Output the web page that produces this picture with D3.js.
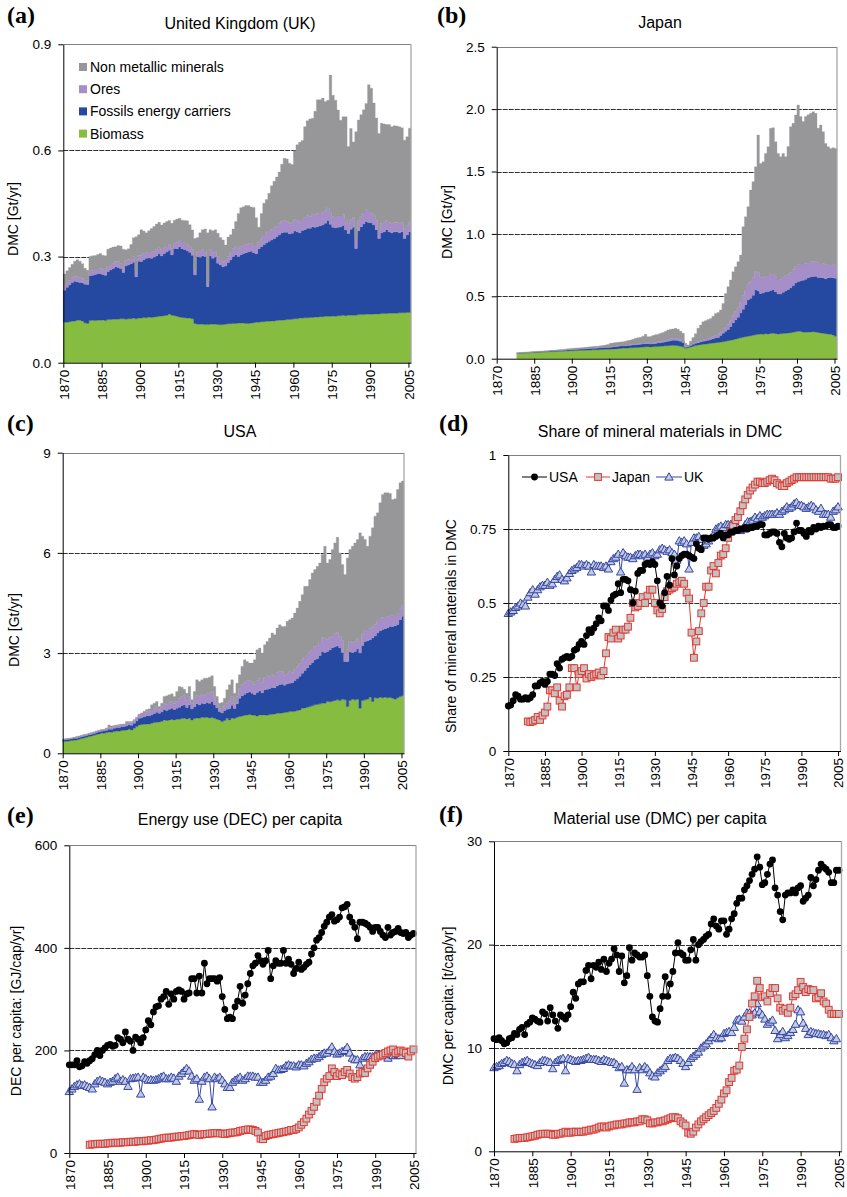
<!DOCTYPE html>
<html><head><meta charset="utf-8">
<script src="https://cdn.jsdelivr.net/npm/d3@7"></script>
<style>
body{margin:0;background:#fff}
svg text{font-family:"Liberation Sans",Arial,Helvetica,sans-serif;fill:#000}
</style>
</head><body>
<svg id="c" width="847" height="1197"></svg>
<script>
// ---------------- DATA ----------------
const xTicks = [1870,1885,1900,1915,1930,1945,1960,1975,1990,2005];
const layerNames = ["Biomass","Fossils energy carriers","Ores","Non metallic minerals"];
const legendOrder = ["Non metallic minerals","Ores","Fossils energy carriers","Biomass"];

// UK DMC by material group [Gt/yr], 1870-2005
const ukStart = 1870;
const ukBiomass = [
.114,.114,.116,.117,.118,.120,.120,.118,.113,.111,
.119,.120,.119,.120,.120,.121,.119,.122,.122,.123,
.123,.123,.124,.124,.123,.124,.124,.126,.124,.126,
.126,.128,.127,.129,.128,.129,.130,.131,.132,.133,
.134,.138,.134,.133,.131,.129,.128,.127,.126,.126,
.124,.111,.109,.109,.109,.108,.108,.109,.109,.109,
.108,.107,.108,.109,.110,.110,.111,.111,.112,.112,
.112,.111,.111,.112,.113,.114,.114,.116,.116,.117,
.117,.118,.118,.119,.120,.120,.121,.122,.122,.123,
.124,.124,.126,.126,.127,.127,.128,.128,.129,.129,
.130,.130,.131,.131,.131,.132,.131,.133,.133,.134,
.133,.134,.134,.134,.134,.136,.136,.136,.137,.137,
.137,.138,.138,.138,.139,.139,.139,.140,.140,.140,
.140,.141,.141,.141,.142,.142];
const ukFossil = [
.091,.099,.104,.110,.112,.109,.107,.108,.109,.110,
.127,.127,.130,.131,.132,.128,.128,.136,.140,.143,
.148,.146,.142,.131,.150,.152,.156,.158,.119,.161,
.160,.163,.168,.167,.167,.169,.172,.176,.170,.176,
.179,.180,.171,.190,.191,.199,.194,.193,.190,.186,
.180,.137,.191,.189,.193,.192,.107,.193,.186,.189,
.173,.169,.163,.164,.173,.181,.189,.194,.188,.193,
.197,.200,.202,.203,.198,.194,.208,.212,.218,.222,
.226,.229,.233,.237,.241,.247,.248,.247,.242,.243,
.248,.246,.241,.248,.249,.253,.252,.256,.254,.256,
.257,.259,.263,.271,.260,.251,.250,.250,.251,.254,
.242,.231,.243,.249,.189,.237,.248,.256,.262,.259,
.258,.251,.238,.213,.228,.231,.237,.230,.227,.230,
.230,.226,.229,.210,.219,.228];
const ukOres = [
.013,.013,.012,.013,.014,.014,.013,.013,.012,.012,
.014,.014,.013,.014,.015,.014,.014,.015,.014,.014,
.016,.016,.015,.015,.016,.016,.016,.017,.016,.016,
.017,.017,.016,.017,.017,.017,.018,.018,.017,.017,
.017,.017,.017,.018,.018,.019,.019,.019,.018,.017,
.017,.013,.016,.017,.017,.016,.013,.017,.017,.018,
.019,.017,.016,.017,.018,.020,.022,.024,.022,.023,
.024,.024,.024,.023,.022,.020,.022,.024,.027,.028,
.029,.030,.031,.030,.032,.033,.033,.031,.029,.031,
.033,.032,.030,.032,.034,.036,.033,.034,.036,.037,
.036,.036,.037,.038,.033,.031,.031,.031,.031,.031,
.031,.028,.027,.028,.027,.029,.030,.031,.033,.033,
.031,.029,.027,.024,.027,.026,.026,.026,.026,.026,
.026,.026,.026,.025,.026,.026];
const ukNonmetallic = [
.033,.034,.037,.038,.043,.048,.047,.041,.033,.028,
.040,.041,.041,.041,.042,.041,.041,.048,.048,.047,
.041,.046,.049,.051,.030,.030,.038,.052,.097,.059,
.073,.064,.056,.060,.067,.070,.072,.072,.070,.069,
.069,.067,.072,.062,.066,.061,.062,.063,.067,.061,
.054,.090,.038,.052,.057,.062,.139,.057,.061,.060,
.066,.061,.060,.043,.054,.051,.056,.070,.100,.110,
.108,.109,.107,.102,.106,.082,.039,.070,.090,.094,
.107,.123,.131,.139,.146,.161,.176,.176,.171,.163,
.194,.214,.226,.222,.257,.268,.276,.273,.292,.321,
.320,.323,.307,.302,.389,.342,.330,.300,.270,.276,
.289,.218,.258,.213,.303,.284,.287,.292,.301,.357,
.350,.316,.289,.273,.283,.279,.271,.277,.274,.274,
.273,.274,.268,.253,.252,.267];

// Japan DMC by material group [Gt/yr], 1878-2005
const jpStart = 1878;
const jpBiomass = [
.043,.044,
.045,.046,.047,.048,.049,.050,.051,.052,.053,.054,
.055,.056,.057,.058,.059,.060,.060,.061,.062,.063,
.064,.065,.066,.067,.067,.068,.069,.070,.071,.072,
.072,.073,.074,.075,.075,.076,.077,.078,.080,.082,
.085,.084,.086,.087,.088,.089,.090,.092,.093,.095,
.096,.094,.095,.097,.098,.100,.101,.103,.104,.106,
.107,.106,.104,.100,.095,.083,.088,.094,.100,.105,
.110,.112,.115,.117,.120,.123,.125,.128,.130,.133,
.136,.140,.144,.148,.152,.158,.162,.167,.172,.176,
.180,.184,.188,.192,.195,.198,.196,.200,.198,.202,
.203,.200,.198,.200,.202,.203,.205,.208,.212,.216,
.219,.218,.214,.212,.214,.214,.216,.214,.210,.206,
.203,.200,.198,.195,.190,.180];
const jpFossil = [
.001,.001,
.001,.002,.002,.002,.002,.003,.003,.003,.004,.004,
.004,.005,.005,.005,.006,.006,.007,.007,.008,.008,
.008,.009,.009,.010,.010,.010,.011,.011,.012,.012,
.013,.013,.014,.015,.015,.016,.017,.018,.019,.019,
.018,.018,.019,.020,.021,.022,.023,.024,.025,.025,
.024,.023,.024,.025,.027,.028,.030,.033,.036,.038,
.040,.042,.041,.040,.035,.009,.008,.012,.016,.018,
.018,.022,.024,.026,.028,.031,.034,.038,.040,.052,
.067,.080,.090,.110,.135,.152,.170,.200,.225,.255,
.290,.300,.320,.358,.350,.325,.330,.335,.340,.345,
.347,.335,.320,.318,.330,.340,.350,.360,.375,.390,
.398,.405,.415,.425,.435,.440,.442,.446,.440,.445,
.445,.440,.450,.455,.458,.464];
const jpOres = [
.001,.001,
.001,.001,.001,.001,.001,.001,.001,.001,.001,.001,
.001,.001,.001,.001,.001,.001,.001,.001,.002,.002,
.002,.002,.002,.002,.002,.002,.002,.002,.002,.003,
.003,.003,.003,.004,.004,.004,.005,.005,.005,.005,
.005,.005,.005,.006,.006,.006,.007,.007,.008,.008,
.008,.008,.009,.010,.011,.012,.013,.014,.015,.016,
.016,.016,.015,.014,.012,.004,.004,.006,.008,.009,
.010,.012,.013,.014,.016,.018,.020,.022,.023,.024,
.027,.035,.040,.050,.060,.070,.080,.095,.110,.120,
.130,.135,.140,.150,.145,.130,.125,.125,.125,.125,
.128,.125,.120,.118,.120,.122,.120,.122,.125,.130,
.135,.135,.130,.125,.125,.122,.120,.120,.118,.115,
.115,.112,.110,.108,.105,.100];
const jpNonmetallic = [
.003,.004,
.004,.004,.004,.005,.005,.004,.004,.005,.004,.004,
.004,.004,.004,.005,.005,.006,.006,.007,.008,.009,
.009,.009,.009,.009,.010,.011,.011,.012,.012,.013,
.012,.014,.015,.016,.020,.027,.027,.028,.028,.028,
.028,.033,.035,.037,.040,.046,.048,.049,.054,.067,
.048,.053,.057,.060,.059,.063,.066,.070,.075,.075,
.075,.079,.075,.066,.061,.027,.010,.028,.046,.068,
.105,.124,.144,.148,.151,.151,.161,.175,.177,.181,
.213,.268,.303,.322,.350,.357,.365,.368,.551,.587,
.618,.732,.770,.838,1.102,.912,.927,.985,1.036,1.174,
1.173,1.079,1.007,.983,.993,.954,1.025,1.169,1.174,1.217,
1.281,1.182,1.141,1.178,1.181,1.190,1.201,1.186,1.078,1.106,
1.056,.973,.941,.927,.937,.941];

// USA DMC by material group [Gt/yr], 1870-2005
const usStart = 1870;
const usBiomass = [
.35,.36,.37,.38,.39,.40,.42,.44,.46,.48,
.50,.52,.54,.56,.58,.60,.60,.62,.64,.63,
.65,.67,.66,.68,.69,.70,.72,.70,.75,.80,
.85,.86,.87,.88,.88,.90,.92,.93,.94,.96,
1.00,.98,1.00,1.01,1.00,1.02,1.02,1.04,1.05,1.03,
1.05,1.00,1.04,1.06,1.05,1.08,1.07,1.08,1.06,1.07,
1.05,1.02,1.00,.95,.98,1.05,1.00,1.06,1.04,1.08,
1.10,1.12,1.14,1.15,1.16,1.15,1.14,1.12,1.15,1.15,
1.15,1.14,1.16,1.17,1.18,1.20,1.20,1.21,1.22,1.23,
1.25,1.25,1.26,1.28,1.30,1.35,1.36,1.38,1.40,1.42,
1.45,1.46,1.48,1.50,1.50,1.55,1.54,1.56,1.58,1.60,
1.58,1.62,1.60,1.40,1.58,1.62,1.60,1.62,1.35,1.58,
1.60,1.62,1.68,1.55,1.66,1.65,1.68,1.66,1.68,1.66,
1.67,1.65,1.62,1.66,1.70,1.72];
const usFossil = [
.05,.05,.05,.05,.06,.05,.05,.05,.05,.05,
.05,.05,.05,.06,.06,.06,.07,.07,.08,.09,
.10,.10,.11,.12,.11,.12,.13,.14,.15,.17,
.20,.21,.22,.24,.24,.25,.27,.30,.26,.28,
.30,.30,.32,.34,.31,.33,.36,.39,.40,.34,
.40,.33,.35,.42,.40,.42,.41,.44,.44,.48,
.40,.34,.25,.26,.30,.27,.34,.38,.30,.40,
.55,.60,.63,.66,.68,.65,.62,.70,.72,.66,
.75,.78,.78,.80,.78,.82,.86,.86,.82,.85,
.85,.86,.92,.96,1.01,1.05,1.12,1.18,1.25,1.30,
1.35,1.38,1.45,1.55,1.52,1.50,1.55,1.60,1.60,1.62,
1.57,1.40,1.15,1.35,1.45,1.40,1.45,1.50,1.65,1.65,
1.75,1.75,1.72,1.90,1.85,1.95,1.98,2.05,2.05,2.10,
2.13,2.15,2.20,2.20,2.30,2.38];
const usOres = [
.02,.02,.02,.02,.02,.02,.02,.03,.03,.03,
.03,.03,.04,.04,.04,.04,.04,.05,.05,.05,
.06,.06,.06,.05,.06,.07,.07,.08,.08,.09,
.10,.11,.12,.13,.13,.15,.16,.17,.12,.16,
.18,.17,.20,.21,.18,.21,.26,.27,.27,.22,
.26,.15,.20,.25,.24,.26,.26,.26,.28,.30,
.22,.16,.10,.12,.16,.18,.22,.25,.15,.22,
.30,.35,.36,.36,.35,.34,.30,.36,.36,.32,
.38,.40,.36,.40,.34,.40,.38,.38,.30,.32,
.34,.32,.34,.36,.38,.40,.40,.38,.39,.40,
.40,.38,.40,.42,.42,.36,.38,.38,.40,.40,
.35,.36,.25,.28,.32,.30,.30,.32,.34,.35,
.34,.32,.33,.34,.35,.36,.36,.36,.35,.34,
.34,.32,.32,.32,.33,.33];
const usNonmetallic = [
.01,.01,.01,.01,.01,.03,.03,.02,.02,.02,
.02,.02,.01,.01,.01,.01,.01,.02,.08,.05,
.02,.02,.03,.02,.02,.06,.03,.03,.03,.02,
.02,.03,.05,.06,.08,.15,.15,.15,.08,.10,
.22,.27,.23,.22,.21,.29,.36,.28,.20,.21,
.29,.12,.26,.47,.46,.44,.51,.47,.50,.47,
.33,.18,.15,.19,.21,.40,.49,.51,.31,.40,
.40,.53,.67,.58,.51,.56,.74,.92,.92,.87,
.97,1.03,1.15,1.23,1.25,1.33,1.41,1.35,1.46,1.55,
1.56,1.62,1.68,1.75,1.86,1.95,2.12,2.06,2.16,2.28,
2.30,2.38,2.37,2.48,2.76,2.29,2.33,2.56,2.72,2.85,
2.50,2.27,2.35,2.82,2.75,2.88,2.95,2.96,3.26,2.92,
2.71,2.51,2.77,2.96,3.24,3.24,3.48,3.68,3.72,3.70,
3.64,3.48,3.48,3.72,3.77,3.72];

// (d) share of mineral materials in DMC
const shareUSA = [
.152,.155,.17,.19,.185,.175,.175,.18,.175,.18,
.19,.22,.22,.23,.235,.225,.235,.26,.26,.255,
.295,.28,.31,.315,.32,.315,.32,.34,.345,.36,
.37,.36,.39,.41,.40,.415,.43,.45,.44,.49,
.49,.475,.51,.525,.53,.565,.535,.58,.58,.575,
.545,.50,.54,.60,.61,.61,.63,.635,.63,.64,
.63,.575,.50,.49,.535,.59,.56,.65,.595,.625,
.65,.66,.665,.665,.66,.655,.65,.70,.685,.68,
.72,.72,.715,.72,.72,.725,.73,.735,.72,.73,
.73,.74,.74,.745,.745,.75,.75,.755,.75,.755,
.755,.76,.76,.765,.765,.73,.73,.735,.74,.74,
.735,.705,.69,.735,.72,.715,.72,.74,.77,.745,
.745,.735,.725,.745,.74,.755,.75,.76,.755,.76,
.76,.765,.765,.755,.755,.76];
const shareJapan = [
.10,.098,
.10,.105,.115,.105,.12,.13,.15,.205,.205,.195,
.215,.17,.15,.185,.19,.215,.28,.28,.215,.26,
.27,.28,.245,.26,.25,.255,.26,.265,.255,.27,
.33,.385,.38,.40,.41,.38,.39,.41,.41,.42,
.45,.50,.485,.49,.50,.52,.50,.525,.545,.545,
.50,.475,.465,.48,.52,.54,.545,.55,.555,.565,
.57,.575,.565,.535,.515,.40,.315,.37,.405,.465,
.50,.555,.555,.61,.625,.60,.635,.66,.665,.685,
.72,.74,.76,.78,.79,.81,.83,.85,.865,.88,
.89,.90,.91,.91,.905,.905,.91,.915,.92,.915,
.905,.90,.895,.895,.905,.91,.915,.92,.925,.925,
.925,.925,.925,.925,.925,.925,.925,.925,.925,.925,
.925,.925,.92,.92,.92,.925];
const shareUK = [
.465,.47,.475,.485,.49,.50,.495,.49,.52,.535,
.545,.53,.545,.555,.56,.56,.57,.56,.565,.58,
.59,.595,.58,.575,.585,.60,.61,.615,.62,.63,
.63,.625,.63,.625,.605,.63,.625,.625,.625,.62,
.625,.615,.64,.65,.655,.665,.605,.67,.66,.655,
.655,.65,.66,.665,.665,.66,.665,.655,.665,.67,
.66,.665,.68,.685,.68,.675,.68,.67,.665,.645,
.71,.705,.71,.70,.615,.705,.72,.72,.725,.715,
.695,.70,.71,.72,.73,.75,.755,.76,.755,.765,
.765,.765,.77,.76,.755,.745,.75,.765,.775,.775,
.78,.79,.785,.795,.79,.795,.80,.80,.80,.80,
.805,.80,.81,.815,.825,.82,.825,.835,.84,.83,
.83,.825,.82,.825,.83,.825,.815,.81,.82,.80,
.80,.80,.79,.81,.815,.825];

// (e) energy use (DEC) per capita [GJ/cap/yr]
const decUSA = [
172,172,172,180,168,170,178,175,180,184,
192,200,190,200,205,210,212,208,210,225,
222,215,236,222,218,200,226,222,215,225,
240,258,250,275,285,287,300,305,315,290,
310,300,315,318,315,300,310,312,340,340,
312,345,312,370,330,340,340,340,335,342,
305,280,262,265,262,285,296,325,292,308,
330,350,365,370,385,375,368,375,395,340,
365,375,370,370,395,370,378,368,350,360,
372,358,362,368,372,388,400,415,420,430,
442,450,460,465,452,455,460,478,480,485,
460,450,440,418,450,450,448,445,440,432,
440,440,432,425,420,440,425,430,432,438,
430,428,430,420,425,428];
const decJapan = [
16,17,
17,18,18,18,18,19,19,20,20,20,
20,21,21,21,22,22,22,23,23,23,
24,24,25,25,26,27,28,29,30,30,
30,31,32,32,33,33,34,35,36,37,
36,35,36,37,37,38,38,39,39,38,
38,37,38,39,40,40,41,43,44,45,
46,46,45,43,40,28,27,33,35,36,
37,38,39,40,41,42,43,45,45,47,
50,55,60,67,75,82,90,100,112,125,
138,145,150,165,158,150,155,152,158,162,
155,148,145,148,155,158,156,165,172,178,
185,188,190,192,195,198,200,202,195,198,
200,198,195,188,198,202];
const decUK = [
120,125,130,133,135,132,133,130,128,125,
135,140,142,140,138,135,138,140,145,148,
140,143,140,130,145,146,147,148,115,148,
145,142,143,142,143,145,148,150,145,145,
148,146,140,150,155,160,165,160,150,142,
145,105,140,148,150,145,90,148,145,148,
142,135,128,128,138,142,145,148,142,145,
150,150,150,148,148,138,138,142,148,150,
155,165,162,163,165,170,172,170,170,168,
172,172,170,175,178,183,185,185,188,192,
195,195,200,207,198,193,195,198,200,206,
195,185,182,182,172,185,188,188,188,188,
190,192,190,192,190,185,192,190,190,192,
190];

// (f) material use (DMC) per capita [t/cap/yr]
const dmcUSA = [
10.9,10.8,11.0,10.7,10.4,10.5,10.9,11.0,11.4,11.3,
11.8,12.0,11.3,12.3,12.5,12.9,12.8,12.6,12.5,13.5,
13.3,12.6,13.9,13.2,12.6,11.9,13.2,13.0,12.8,13.2,
14.0,15.4,14.8,16.2,16.4,16.4,17.5,18.0,16.7,18.0,
17.8,18.3,17.6,18.6,17.4,18.2,18.6,19.6,19.0,17.4,
18.9,16.3,17.0,19.7,18.5,19.2,19.0,18.8,18.8,19.0,
17.0,15.0,13.0,12.6,12.5,13.8,15.0,16.9,15.0,16.2,
17.4,19.2,20.2,19.2,19.0,18.5,18.5,19.5,20.5,18.5,
20.0,20.3,20.5,20.8,21.0,22.0,22.5,21.8,21.5,22.3,
22.3,21.0,21.5,22.5,23.0,24.0,24.5,24.5,25.3,25.7,
26.2,26.8,27.3,28.5,27.5,25.8,26.0,26.8,27.8,28.2,
25.5,24.8,23.2,22.4,24.8,25.0,25.0,25.3,25.0,25.5,
25.7,24.2,24.5,24.8,26.5,25.7,26.3,27.2,27.8,27.5,
27.3,27.0,26.0,26.0,27.2,27.2];
const dmcJapan = [
1.2,1.25,
1.3,1.3,1.3,1.35,1.4,1.45,1.5,1.6,1.65,1.7,
1.7,1.7,1.7,1.6,1.6,1.7,1.7,1.8,1.9,1.8,
1.8,1.9,1.9,1.85,1.9,1.9,2.0,2.0,2.1,2.1,
2.2,2.3,2.4,2.4,2.3,2.4,2.5,2.5,2.6,2.6,
2.6,2.7,2.7,2.8,2.8,2.8,2.9,2.9,3.1,3.1,
3.0,2.7,2.7,2.8,2.8,2.9,2.9,3.0,3.1,3.2,
3.3,3.3,3.2,2.9,2.7,2.5,1.8,1.7,1.9,2.3,
2.6,2.9,3.1,3.3,3.5,3.7,3.9,4.2,4.6,5.0,
5.6,5.9,6.7,7.1,7.8,7.9,8.3,10.1,10.9,11.8,
13.0,14.3,15.0,16.5,15.8,14.9,15.0,14.5,15.3,15.8,
15.8,14.8,13.9,13.6,13.8,13.4,13.9,15.0,15.2,15.6,
16.4,15.9,15.4,15.7,15.6,15.6,14.8,14.9,15.3,14.5,
14.3,13.7,13.3,13.3,13.3,13.3];
const dmcUK = [
8.1,8.2,8.3,8.5,8.6,8.8,8.7,8.5,8.4,7.8,
8.4,8.6,8.7,8.8,8.6,8.5,8.4,8.3,8.6,8.8,
8.8,8.7,8.6,8.0,8.6,8.8,8.9,9.0,7.8,9.0,
8.9,8.8,8.7,8.8,8.8,8.9,9.0,9.1,8.9,8.9,
8.9,8.8,8.7,8.9,8.8,8.7,8.6,8.6,8.4,8.1,
8.2,6.6,7.9,7.9,8.2,7.9,6.0,8.1,7.9,8.2,
8.0,7.6,7.3,7.2,7.6,7.8,8.0,8.2,8.8,9.0,
9.0,9.1,9.0,8.8,8.5,8.2,8.6,9.0,9.2,9.4,
9.6,10.0,10.2,10.4,10.7,11.0,11.3,11.0,10.9,11.0,
11.4,11.5,11.6,11.5,12.0,12.7,12.8,12.6,13.0,13.4,
13.4,13.2,13.4,14.3,13.5,13.2,12.8,12.3,12.5,12.7,
11.7,10.9,11.3,11.6,11.0,11.2,11.5,11.8,12.3,13.7,
13.5,12.4,11.9,11.3,11.6,11.5,11.4,11.4,11.3,11.3,
11.2,11.3,11.0,10.7,10.9];

// ---------------- STYLE ----------------
const layerColors = {"Biomass":"#86bc40","Fossils energy carriers":"#2549a0","Ores":"#a68fc8","Non metallic minerals":"#97979a"};
const seriesStyle = {
  USA:   {line:"#000000", fill:"#000000", stroke:"#000000", shape:"circle"},
  Japan: {line:"#e8352e", fill:"#c2c2c2", stroke:"#e8352e", shape:"square"},
  UK:    {line:"#3447a6", fill:"#c3c9df", stroke:"#3447a6", shape:"triangle"}
};

const svg = d3.select("#c");

function panelFrame(cfg) {
  const g = svg.append("g");
  const x = d3.scaleLinear().domain([1870, 2006]).range([cfg.left, cfg.right]);
  const y = d3.scaleLinear().domain([0, cfg.yMax]).range([cfg.bottom, cfg.top]);
  g.append("g").selectAll("line").data(cfg.yTicks.filter(t => t > 0 && t < cfg.yMax)).join("line")
    .attr("x1", cfg.left).attr("x2", cfg.right)
    .attr("y1", d => Math.round(y(d)) + 0.5).attr("y2", d => Math.round(y(d)) + 0.5)
    .attr("stroke", "#303030").attr("stroke-width", 1).attr("stroke-dasharray", "5,1");
  return {g, x, y};
}

function panelAxes(cfg, p) {
  const {g, x, y} = p;
  g.append("line").attr("x1", cfg.left).attr("x2", cfg.right).attr("y1", Math.round(y(cfg.yMax)) + 0.5).attr("y2", Math.round(y(cfg.yMax)) + 0.5)
    .attr("stroke", "#808080").attr("stroke-width", 1);
  g.append("line").attr("x1", cfg.right).attr("x2", cfg.right).attr("y1", cfg.top).attr("y2", cfg.bottom)
    .attr("stroke", "#a8a8a8").attr("stroke-width", 1.3);
  const ya = g.append("g").attr("transform", `translate(${cfg.left},0)`)
    .call(d3.axisLeft(y).tickValues(cfg.yTicks).tickFormat(cfg.fmt).tickSize(5).tickPadding(7).tickSizeOuter(0));
  ya.selectAll("text").attr("font-size", 13.5).attr("font-family", '"Liberation Sans",Arial,sans-serif');
  const xa = g.append("g").attr("transform", `translate(0,${cfg.bottom})`)
    .call(d3.axisBottom(x).tickValues(xTicks).tickFormat(d3.format("d")).tickSize(5).tickSizeOuter(0));
  xa.selectAll("text").attr("font-size", 13.5).attr("font-family", '"Liberation Sans",Arial,sans-serif')
    .attr("transform", "rotate(-90)").attr("text-anchor", "end")
    .attr("x", -7).attr("y", 0).attr("dy", "0.36em");
  [ya, xa].forEach(a => { a.select(".domain").attr("stroke", "#000"); a.selectAll(".tick line").attr("stroke", "#000"); });
  svg.append("text").attr("x", cfg.letterX).attr("y", cfg.letterY).text(cfg.letter)
    .attr("font-weight", "bold").attr("font-size", 24)
    .style("font-family", '"Liberation Serif","Times New Roman",serif');
  svg.append("text").attr("x", cfg.titleX).attr("y", cfg.titleY).attr("text-anchor", "middle").attr("font-size", 16).text(cfg.title);
  svg.append("text").attr("transform", `translate(${cfg.ylabX},${cfg.ylabY}) rotate(-90)`).attr("text-anchor", "middle")
    .attr("dy", "0.36em").attr("font-size", 14).text(cfg.ylabel);
}

function stackPanel(cfg) {
  const p = panelFrame(cfg);
  const rows = cfg.layers[0].map((_, i) => {
    const r = {year: cfg.start + i};
    layerNames.forEach((k, j) => r[k] = cfg.layers[j][i]);
    return r;
  });
  const series = d3.stack().keys(layerNames)(rows);
  const area = d3.area().curve(d3.curveStepAfter)
    .x(d => p.x(d.data.year)).y0(d => p.y(d[0])).y1(d => p.y(d[1]));
  series.forEach(s => {
    const last = s[s.length - 1];
    const ext = Object.assign([last[0], last[1]], {data: {year: last.data.year + 1}});
    const pts = s.concat([ext]);
    p.g.append("path").attr("d", area(pts)).attr("fill", layerColors[s.key])
      .attr("stroke", layerColors[s.key]).attr("stroke-width", 0.3);
  });
  panelAxes(cfg, p);
  return p;
}

function marker(sel, shape, st) {
  if (shape === "circle") {
    sel.append("circle").attr("r", 3.4).attr("fill", st.fill);
  } else if (shape === "square") {
    sel.append("rect").attr("x", -3.4).attr("y", -3.4).attr("width", 6.8).attr("height", 6.8)
      .attr("fill", st.fill).attr("stroke", st.stroke).attr("stroke-width", 1);
  } else {
    sel.append("path").attr("d", "M0,-4.2L4.2,3.1L-4.2,3.1Z")
      .attr("fill", st.fill).attr("stroke", st.stroke).attr("stroke-width", 1);
  }
}

function linePanel(cfg) {
  const p = panelFrame(cfg);
  cfg.series.forEach(s => {
    const st = seriesStyle[s.name];
    const pts = s.values.map((v, i) => ({year: s.start + i, v}));
    p.g.append("path").attr("d", d3.line().x(d => p.x(d.year)).y(d => p.y(d.v))(pts))
      .attr("fill", "none").attr("stroke", st.line).attr("stroke-width", 1);
    p.g.append("g").selectAll("g").data(pts).join("g")
      .attr("transform", d => `translate(${p.x(d.year)},${p.y(d.v)})`)
      .each(function() { marker(d3.select(this), st.shape, st); });
  });
  panelAxes(cfg, p);
  return p;
}

const f1 = d3.format(".1f");

// (a) UK
stackPanel({left:63.3, right:411, top:44.3, bottom:362.7, yMax:0.9, yTicks:[0,0.3,0.6,0.9], fmt:f1,
  start:ukStart, layers:[ukBiomass, ukFossil, ukOres, ukNonmetallic],
  letter:"(a)", letterX:7, letterY:23, title:"United Kingdom (UK)", titleX:240, titleY:29,
  ylabel:"DMC [Gt/yr]", ylabX:13, ylabY:219});
const lg = svg.append("g");
legendOrder.forEach((k, i) => {
  const yy = 67 + i * 22.2;
  lg.append("rect").attr("x", 79).attr("y", yy - 4).attr("width", 8).attr("height", 8).attr("fill", layerColors[k]);
  lg.append("text").attr("x", 90).attr("y", yy).attr("dy", "0.36em").attr("font-size", 14).text(k);
});

// (b) Japan
stackPanel({left:496.7, right:837, top:46.7, bottom:358.7, yMax:2.5, yTicks:[0,0.5,1,1.5,2,2.5], fmt:f1,
  start:jpStart, layers:[jpBiomass, jpFossil, jpOres, jpNonmetallic],
  letter:"(b)", letterX:437, letterY:23, title:"Japan", titleX:660, titleY:28,
  ylabel:"DMC [Gt/yr]", ylabX:447, ylabY:222});

// (c) USA
stackPanel({left:62.7, right:404, top:452.7, bottom:753.3, yMax:9, yTicks:[0,3,6,9], fmt:d3.format("d"),
  start:usStart, layers:[usBiomass, usFossil, usOres, usNonmetallic],
  letter:"(c)", letterX:7, letterY:431, title:"USA", titleX:240, titleY:437,
  ylabel:"DMC [Gt/yr]", ylabX:14, ylabY:630});

// (d) share
linePanel({left:508.3, right:840.5, top:455, bottom:751, yMax:1, yTicks:[0,0.25,0.5,0.75,1], fmt:d => String(d),
  series:[{name:"UK", start:1870, values:shareUK},{name:"Japan", start:1878, values:shareJapan},{name:"USA", start:1870, values:shareUSA}],
  letter:"(d)", letterX:439, letterY:431, title:"Share of mineral materials in DMC", titleX:660, titleY:437,
  ylabel:"Share of mineral materials in DMC", ylabX:451, ylabY:626});
const legendD = [{name:"USA", x1:522, x2:547}, {name:"Japan", x1:586, x2:610}, {name:"UK", x1:656, x2:682}];
const ld = svg.append("g");
legendD.forEach(e => {
  const st = seriesStyle[e.name];
  ld.append("line").attr("x1", e.x1).attr("x2", e.x2).attr("y1", 477).attr("y2", 477).attr("stroke", st.line).attr("stroke-width", 1);
  marker(ld.append("g").attr("transform", `translate(${(e.x1 + e.x2) / 2},477)`), st.shape, st);
  ld.append("text").attr("x", e.x2 + 2).attr("y", 477).attr("dy", "0.36em").attr("font-size", 14).text(e.name);
});

// (e) DEC per capita
linePanel({left:69.3, right:416, top:845.3, bottom:1153, yMax:600, yTicks:[0,200,400,600], fmt:d3.format("d"),
  series:[{name:"UK", start:1870, values:decUK},{name:"Japan", start:1878, values:decJapan},{name:"USA", start:1870, values:decUSA}],
  letter:"(e)", letterX:7, letterY:823, title:"Energy use (DEC) per capita", titleX:240, titleY:825,
  ylabel:"DEC per capita: [GJ/cap/yr]", ylabX:16, ylabY:1011});

// (f) DMC per capita
linePanel({left:494, right:841.5, top:841.3, bottom:1151.3, yMax:30, yTicks:[0,10,20,30], fmt:d3.format("d"),
  series:[{name:"UK", start:1870, values:dmcUK},{name:"Japan", start:1878, values:dmcJapan},{name:"USA", start:1870, values:dmcUSA}],
  letter:"(f)", letterX:439, letterY:822, title:"Material use (DMC) per capita", titleX:660, titleY:824,
  ylabel:"DMC per capita: [t/cap/yr]", ylabX:448, ylabY:1006});
</script>
</body></html>
